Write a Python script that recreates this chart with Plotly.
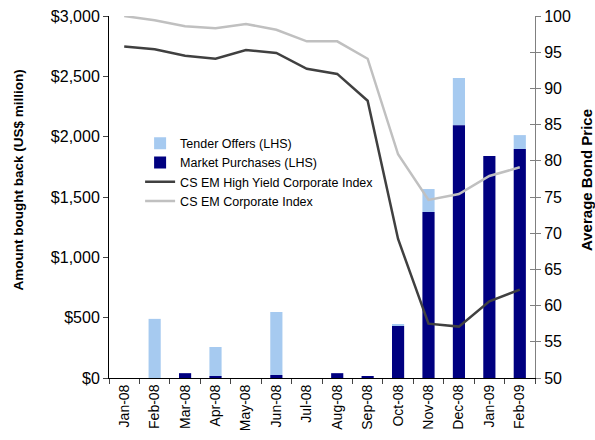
import plotly.graph_objects as go

months = ["Jan-08", "Feb-08", "Mar-08", "Apr-08", "May-08", "Jun-08", "Jul-08",
          "Aug-08", "Sep-08", "Oct-08", "Nov-08", "Dec-08", "Jan-09", "Feb-09"]
market = [0, 0, 40, 10, 0, 25, 0, 40, 10, 431, 1375, 2095, 1839, 1897]
tender = [0, 490, 0, 247, 0, 522, 0, 0, 0, 14, 191, 391, 0, 116]
hy_index = [95.8, 95.4, 94.5, 94.1, 95.3, 94.9, 92.7, 92.0, 88.3, 69.2, 57.5, 57.1, 60.6, 62.2]
corp_index = [100.0, 99.4, 98.6, 98.3, 98.9, 98.1, 96.5, 96.5, 94.1, 80.9, 74.6, 75.4, 77.9, 79.1]
left_ticks = [0, 500, 1000, 1500, 2000, 2500, 3000]
left_tick_text = ["$0", "$500", "$1,000", "$1,500", "$2,000", "$2,500", "$3,000"]

fig = go.Figure()
fig.add_trace(go.Bar(x=months, y=tender, base=market, name="Tender Offers (LHS)",
                     marker=dict(color="#a6caf0", line=dict(width=0)), yaxis="y"))
fig.add_trace(go.Bar(x=months, y=market, name="Market Purchases (LHS)",
                     marker=dict(color="#000080", line=dict(width=0)), yaxis="y"))
fig.add_trace(go.Scatter(x=months, y=hy_index, name="CS EM High Yield Corporate Index",
                         mode="lines", line=dict(color="#404040", width=2.5), yaxis="y2"))
fig.add_trace(go.Scatter(x=months, y=corp_index, name="CS EM Corporate Index",
                         mode="lines", line=dict(color="#c0c0c0", width=2.5), yaxis="y2"))
# invisible helper trace so inner tick marks of the right axis get drawn
fig.add_trace(go.Scatter(x=months, y=hy_index, mode="lines", opacity=0, showlegend=False,
                         hoverinfo="skip", yaxis="y3"))

fig.update_layout(
    width=595, height=440,
    margin=dict(l=109, r=60, t=16, b=62),
    paper_bgcolor="white", plot_bgcolor="white",
    font=dict(family="Liberation Sans, Arial", size=15, color="black"),
    barmode="overlay", bargap=0.6,
    showlegend=True,
    legend=dict(x=0.073, y=0.689, xanchor="left", yanchor="top",
                bgcolor="rgba(0,0,0,0)", font=dict(size=12.5),
                traceorder="normal", tracegroupgap=0, itemwidth=30),
    xaxis=dict(type="category", showline=True, linecolor="black", linewidth=1,
               ticks="outside", ticklen=5, tickson="boundaries", tickangle=-90,
               showgrid=False, tickfont=dict(size=14), automargin=False),
    yaxis=dict(range=[0, 3000], tickvals=left_ticks, ticktext=left_tick_text,
               showline=True, linecolor="black", linewidth=1, ticks="outside", ticklen=5,
               showgrid=False, zeroline=False, automargin=False, tickfont=dict(size=16)),
    yaxis2=dict(range=[50, 100], dtick=5, overlaying="y", side="right",
                showline=True, linecolor="#808080", linewidth=1, ticks="outside", ticklen=5,
                tickcolor="#808080", showgrid=False, zeroline=False, automargin=False,
                tickfont=dict(size=16)),
    yaxis3=dict(range=[50, 100], dtick=5, overlaying="y", side="right",
                showline=False, ticks="inside", ticklen=5, tickcolor="#808080",
                showticklabels=False, showgrid=False, zeroline=False, automargin=False),
    annotations=[
        dict(text="<b>Amount bought back (US$ million)</b>", textangle=-90,
             xref="paper", yref="paper", x=-(109 - 18.5) / 426, y=1 - (180 - 16) / 362,
             xanchor="center", yanchor="middle", showarrow=False, font=dict(size=13.5)),
        dict(text="<b>Average Bond Price</b>", textangle=-90,
             xref="paper", yref="paper", x=1 + (587 - 535) / 426, y=1 - (180 - 16) / 362,
             xanchor="center", yanchor="middle", showarrow=False, font=dict(size=15)),
    ],
)

fig.write_html("out.html", config={"displayModeBar": False},
               post_script="document.body.style.margin='0px';")
